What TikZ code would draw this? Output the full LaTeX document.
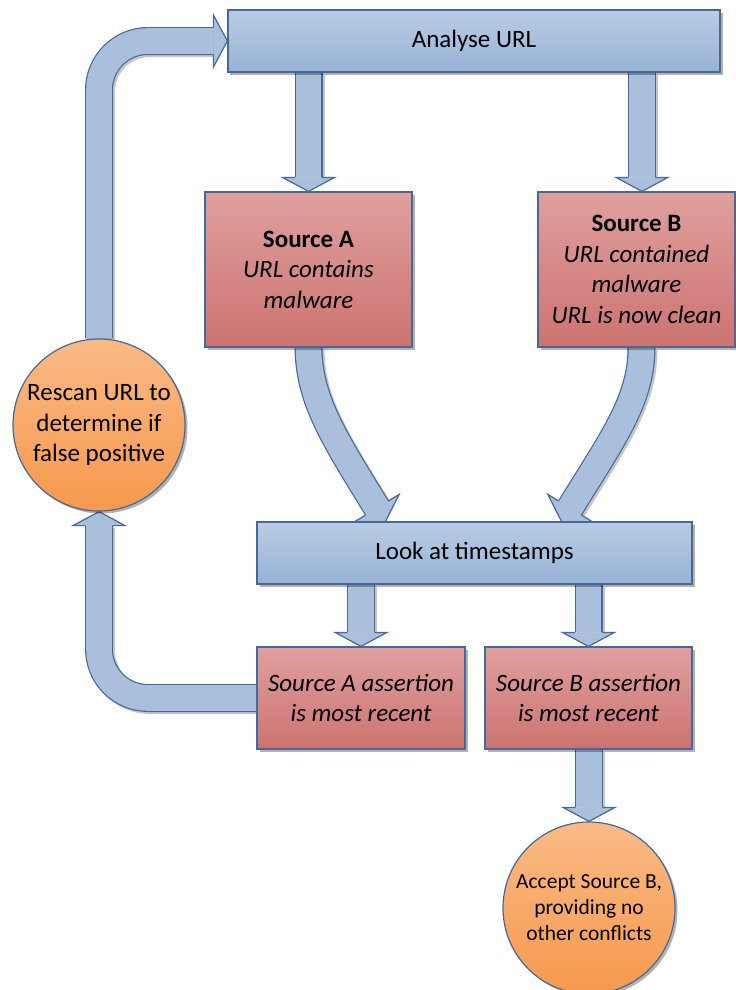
\documentclass[tikz,border=0pt]{standalone}
\usepackage{fontspec}
\setmainfont{Carlito}
\usetikzlibrary{calc,shadows}
\definecolor{edgeblue}{HTML}{46699C}
\definecolor{blueTop}{HTML}{B9CCE4}
\definecolor{blueBot}{HTML}{98B2D5}
\definecolor{redTop}{HTML}{DFA09E}
\definecolor{redBot}{HTML}{CC7371}
\definecolor{orTop}{HTML}{FABA86}
\definecolor{orBot}{HTML}{F6994D}
\definecolor{arrowfill}{HTML}{A9BFDC}
\pgfdeclarelayer{bg}
\pgfsetlayers{bg,main}
% head of a block arrow: #1 = centre of the head base, #2 = tip
\newcommand{\bhead}[2]{%
  \fill[arrowfill] ($(#1)!26bp!90:(#2)$) -- (#2) -- ($(#1)!26bp!-90:(#2)$) -- cycle;
  \draw[edgeblue,line width=1.2bp,line join=miter]
    ($(#1)!13.4bp!90:(#2)$) -- ($(#1)!26bp!90:(#2)$) -- (#2)
    -- ($(#1)!26bp!-90:(#2)$) -- ($(#1)!13.4bp!-90:(#2)$);
}
\begin{document}
\begin{tikzpicture}[x=1bp,y=-1bp,
  softshadow/.style={drop shadow={shadow xshift=2.5bp,shadow yshift=-2.5bp,opacity=0.3,fill=black}},
  bluebox/.style={draw=edgeblue,line width=1.2bp,top color=blueTop,bottom color=blueBot,
    inner sep=0pt,softshadow,align=center,font=\fontsize{25bp}{30.5bp}\selectfont},
  redbox/.style={bluebox,top color=redTop,bottom color=redBot},
  orcircle/.style={circle,draw=edgeblue,line width=1.2bp,top color=orTop,bottom color=orBot,
    inner sep=0pt,minimum size=172bp,softshadow,align=center},
  shaft/.style={line width=25.6bp,draw=arrowfill,
    preaction={draw=black,opacity=0.22,line width=28bp,transform canvas={shift={(2bp,-2bp)}}},
    preaction={draw=edgeblue,line width=28bp}},
]
\useasboundingbox (0,0) rectangle (736,990);

% steps
\node[bluebox,minimum width=492bp,minimum height=62bp] (analyse) at (474,41) {Analyse URL};
\node[redbox,minimum width=207bp,minimum height=155bp] (srcA) at (308.5,269.5)
  {\textbf{Source A}\\\textit{URL contains}\\\textit{malware}};
\node[redbox,minimum width=197bp,minimum height=155bp] (srcB) at (636.5,269.5)
  {\textbf{Source B}\\\textit{URL contained}\\\textit{malware}\\\textit{URL is now clean}};
\node[bluebox,minimum width=435bp,minimum height=62bp] (look) at (474.5,553) {Look at timestamps};
\node[redbox,minimum width=208bp,minimum height=102bp] (srcAa) at (361,698)
  {\textit{Source A assertion}\\\textit{is most recent}};
\node[redbox,minimum width=207bp,minimum height=102bp] (srcBb) at (588.5,698)
  {\textit{Source B assertion}\\\textit{is most recent}};
\node[orcircle,font=\fontsize{25bp}{30.5bp}\selectfont] (rescan) at (99,425)
  {Rescan URL to\\determine if\\false positive};
\node[orcircle,font=\fontsize{21.5bp}{26bp}\selectfont] (accept) at (589,908)
  {Accept Source B,\\providing no\\other conflicts};

\begin{pgfonlayer}{bg}
  % Analyse URL -> sources
  \coordinate (hA) at ($(srcA.north)+(0,14bp)$);
  \draw[shaft] (analyse.south -| srcA.north) -- (hA);
  \bhead{hA}{srcA.north}
  \coordinate (tB) at ($(srcB.north)+(5.5bp,0)$);
  \coordinate (hB) at ($(tB)+(0,14bp)$);
  \draw[shaft] (analyse.south -| tB) -- (hB);
  \bhead{hB}{tB}

  % sources -> Look at timestamps
  \coordinate (cA0) at (srcA.south);
  \coordinate (cA1) at (309,400);
  \coordinate (cA2) at (334,438);
  \coordinate (cA3) at (377,508);
  \coordinate (tipA) at ($(cA3)!-16bp!(cA2)$);
  \draw[shaft] (cA0) .. controls (cA1) and (cA2) .. (cA3);
  \bhead{cA3}{tipA}
  \coordinate (cB0) at ($(srcB.south)+(5bp,0)$);
  \coordinate (cB1) at (641.5,400);
  \coordinate (cB2) at (613,438);
  \coordinate (cB3) at (570,508);
  \coordinate (tipB) at ($(cB3)!-16bp!(cB2)$);
  \draw[shaft] (cB0) .. controls (cB1) and (cB2) .. (cB3);
  \bhead{cB3}{tipB}

  % Look at timestamps -> assertions
  \coordinate (hAa) at ($(srcAa.north)+(0,14bp)$);
  \draw[shaft] (look.south -| srcAa.north) -- (hAa);
  \bhead{hAa}{srcAa.north}
  \coordinate (hBb) at ($(srcBb.north)+(0,14bp)$);
  \draw[shaft] (look.south -| srcBb.north) -- (hBb);
  \bhead{hBb}{srcBb.north}

  % Source B assertion -> accept
  \coordinate (hAc) at ($(accept.north)+(0,14bp)$);
  \draw[shaft] (srcBb.south -| accept.north) -- (hAc);
  \bhead{hAc}{accept.north}

  % Source A assertion -> rescan
  \coordinate (hR) at ($(rescan.south)+(0,-14bp)$);
  \draw[shaft,rounded corners=49bp] (srcAa.west) -- (rescan |- srcAa.west) -- (hR);
  \bhead{hR}{rescan.south}

  % rescan -> Analyse URL
  \coordinate (hU) at ($(analyse.west)+(-14bp,0)$);
  \draw[shaft,rounded corners=49bp] (rescan.north) -- (rescan.north |- analyse.west) -- (hU);
  \bhead{hU}{analyse.west}
\end{pgfonlayer}
\end{tikzpicture}
\end{document}
